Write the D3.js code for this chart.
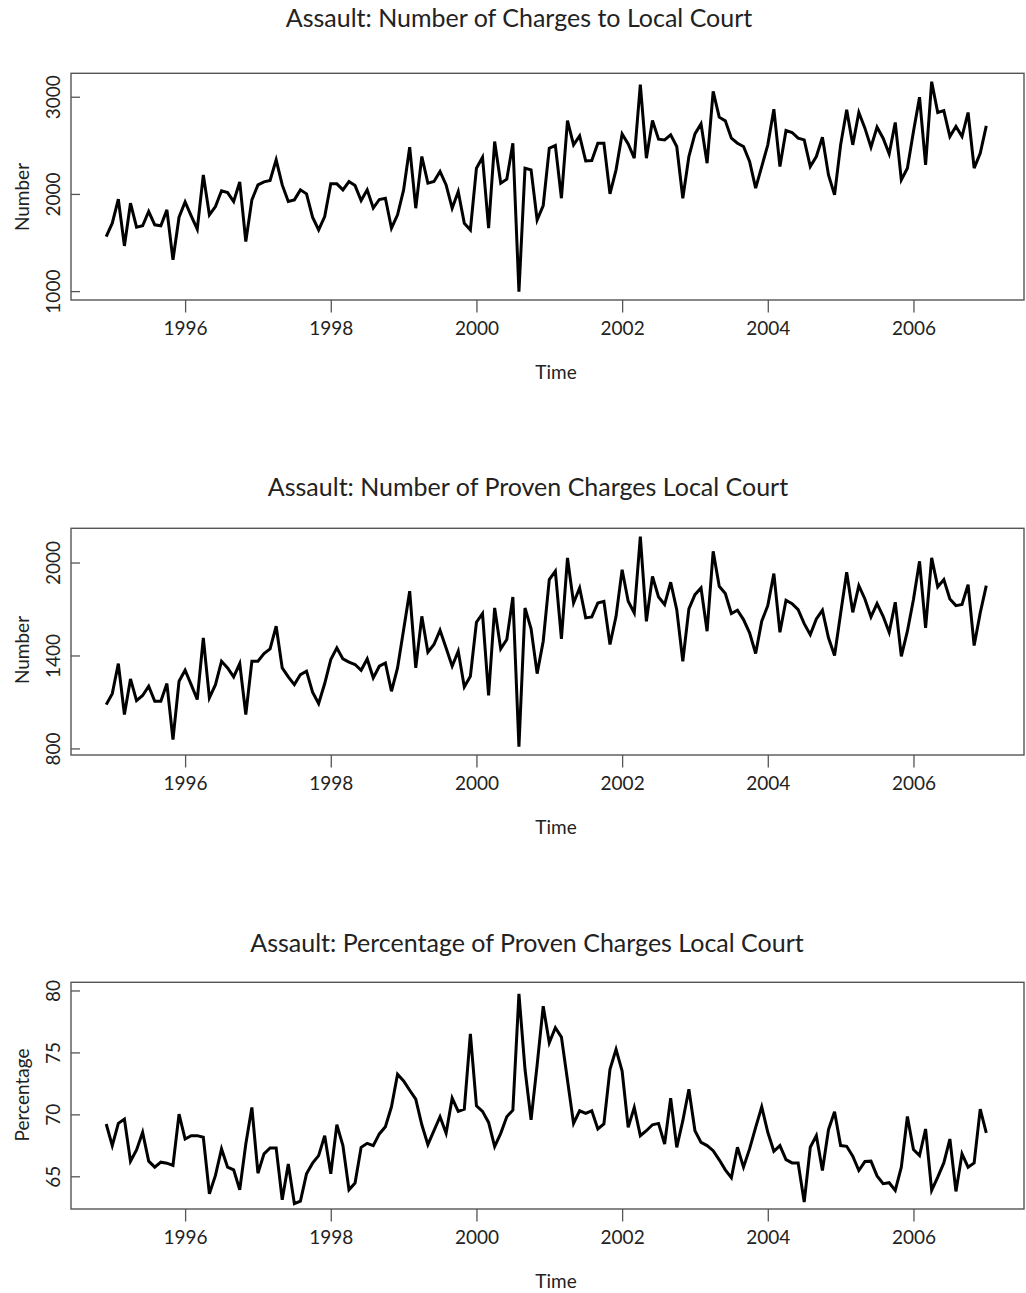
<!DOCTYPE html>
<html><head><meta charset="utf-8">
<script src="https://cdn.jsdelivr.net/npm/d3@7"></script>
<style>
body{margin:0;background:#fff}
svg{display:block}
text{font-family:Lato,"Open Sans",sans-serif;fill:#222}
</style>
</head><body>
<svg id="chart" width="1026" height="1293"></svg>
<script>
// ---- data ----
const startYear = 1994, startMonth = 12, frequency = 12;
const charges = [1566,1704,1951,1470,1910,1663,1677,1824,1687,1677,
1841,1327,1766,1923,1779,1642,2201,1790,1875,2037,
2019,1927,2129,1515,1944,2098,2129,2143,2356,2098,
1927,1944,2047,2006,1766,1635,1772,2109,2109,2047,
2133,2091,1937,2047,1860,1948,1961,1652,1790,2047,
2486,1858,2390,2116,2133,2236,2098,1858,2030,1704,
1635,2270,2383,1652,2544,2116,2157,2527,1000,2270,
2253,1738,1886,2476,2503,1961,2760,2510,2603,2345,
2349,2527,2527,2006,2253,2623,2520,2373,3130,2373,
2760,2568,2561,2613,2493,1961,2390,2623,2726,2321,
3060,2795,2757,2579,2527,2493,2339,2064,2287,2510,
2877,2287,2658,2637,2579,2561,2287,2390,2589,2201,
1995,2510,2870,2510,2843,2682,2486,2692,2579,2417,
2740,2150,2270,2647,3000,2304,3160,2843,2863,2596,
2699,2596,2843,2270,2424,2706];
const proven = [1086,1157,1351,1022,1252,1112,1145,1205,1108,1108,
1222,861,1237,1308,1215,1119,1517,1130,1215,1366,
1323,1265,1351,1022,1366,1366,1415,1446,1592,1323,
1265,1215,1280,1302,1166,1093,1222,1377,1452,1381,
1360,1345,1308,1381,1259,1334,1355,1172,1323,1570,
1818,1323,1656,1424,1474,1566,1452,1334,1431,1200,
1269,1618,1674,1145,1710,1446,1506,1781,815,1710,
1575,1286,1495,1893,1947,1510,2033,1742,1839,1646,
1652,1742,1753,1474,1656,1957,1753,1678,2170,1624,
1914,1781,1732,1876,1699,1366,1704,1796,1839,1560,
2076,1850,1803,1674,1695,1635,1549,1416,1624,1725,
1932,1553,1760,1738,1699,1609,1538,1639,1695,1517,
1403,1674,1940,1682,1854,1768,1652,1738,1656,1553,
1747,1398,1560,1764,2011,1581,2033,1846,1893,1768,
1725,1732,1861,1467,1678,1854];
const percentage = [69.26,67.52,69.31,69.66,66.26,67.17,68.59,66.26,65.78,66.18,
66.10,65.91,70.06,68.05,68.32,68.32,68.19,63.63,65.11,67.25,
65.78,65.56,63.95,67.65,70.60,65.29,66.85,67.33,67.33,63.15,
66.04,62.83,63.04,65.24,66.10,66.71,68.32,65.24,69.20,67.52,
63.95,64.49,67.38,67.70,67.52,68.46,69.04,70.65,73.28,72.74,
71.99,71.27,69.20,67.60,68.72,69.85,68.51,71.35,70.28,70.46,
76.54,70.73,70.28,69.39,67.44,68.51,69.85,70.38,79.76,73.68,
69.60,74.03,78.77,75.82,77.03,76.28,72.79,69.31,70.33,70.12,
70.33,68.86,69.26,73.68,75.29,73.54,68.99,70.60,68.32,68.72,
69.20,69.31,67.65,71.35,67.38,69.53,72.07,68.72,67.78,67.52,
67.11,66.37,65.56,64.92,67.38,65.78,67.25,68.99,70.65,68.59,
67.06,67.52,66.39,66.12,66.12,62.96,67.38,68.32,65.51,68.80,
70.25,67.52,67.46,66.66,65.51,66.23,66.26,65.07,64.44,64.52,
63.90,65.78,69.87,67.20,66.71,68.86,63.90,64.97,66.12,68.05,
63.82,66.85,65.78,66.12,70.46,68.54];

const xTickYears = [1996,1998,2000,2002,2004,2006];
const yTicksCharges = [1000,2000,3000];
const yTicksProven = [800,1400,2000];
const yTicksPercent = [65,70,75,80];
const yDomainCharges = [913.6,3246.4];
const yDomainProven = [760.8,2224.2];
const yDomainPercent = [62.40,80.70];
const titles = ["Assault: Number of Charges to Local Court",
                "Assault: Number of Proven Charges Local Court",
                "Assault: Percentage of Proven Charges Local Court"];
const yLabels = ["Number","Number","Percentage"];
const xLabel = "Time";

// ---- layout ----
const svg = d3.select("#chart");
const boxLeft = 71, boxRight = 1024, boxH = 226.7;
const panelTops = [73.3, 528.3, 982.3];
const titleBaselines = [27, 496, 952];
const titleCenters = [519, 528, 527];
const fontSize = 19;
const titleSize = 25;
const boxColor = "#555";

const t0 = startYear + (startMonth - 1) / frequency;
const times = charges.map((d, i) => t0 + i / frequency);
const tEnd = times[times.length - 1];
const span = tEnd - t0;
const x = d3.scaleLinear()
  .domain([t0 - 0.04 * span, tEnd + 0.04 * span])
  .range([boxLeft, 1021.5]);

const panels = [
  {values: charges, ticks: yTicksCharges, domain: yDomainCharges, title: titles[0], ylab: yLabels[0], ylabY: 197},
  {values: proven, ticks: yTicksProven, domain: yDomainProven, title: titles[1], ylab: yLabels[1], ylabY: 650},
  {values: percentage, ticks: yTicksPercent, domain: yDomainPercent, title: titles[2], ylab: yLabels[2], ylabY: 1095}
];

panels.forEach((p, k) => {
  const top = panelTops[k], bottom = top + boxH;
  const y = d3.scaleLinear().domain(p.domain).range([bottom, top]);
  const g = svg.append("g");

  const line = d3.line().x((d, i) => x(times[i])).y(d => y(d));
  g.append("path").datum(p.values)
    .attr("d", line)
    .attr("fill", "none")
    .attr("stroke", "#000")
    .attr("stroke-width", 3)
    .attr("stroke-linejoin", "miter");

  g.append("rect")
    .attr("x", boxLeft).attr("y", top)
    .attr("width", boxRight - boxLeft).attr("height", boxH)
    .attr("fill", "none").attr("stroke", boxColor).attr("stroke-width", 1.4);

  const xAxis = d3.axisBottom(x).tickValues(xTickYears).tickFormat(d3.format("d"))
    .tickSize(12.5).tickPadding(9);
  const xa = g.append("g").attr("transform", `translate(0,${bottom})`).call(xAxis);
  xa.select(".domain").remove();
  xa.selectAll(".tick line").attr("stroke", boxColor).attr("stroke-width", 1.3);
  xa.selectAll(".tick text").attr("font-size", fontSize).attr("font-family", "Lato")
    .attr("fill", "#222").attr("dy", null).attr("y", 35);

  const ya = g.append("g");
  ya.selectAll("line").data(p.ticks).enter().append("line")
    .attr("x1", boxLeft).attr("x2", boxLeft + 9)
    .attr("y1", d => y(d)).attr("y2", d => y(d))
    .attr("stroke", boxColor).attr("stroke-width", 1.3);
  ya.selectAll("text").data(p.ticks).enter().append("text")
    .attr("transform", d => `translate(59.5,${y(d)}) rotate(-90)`)
    .attr("text-anchor", "middle")
    .attr("font-size", fontSize)
    .text(d => d);

  g.append("text").attr("x", titleCenters[k]).attr("y", titleBaselines[k])
    .attr("text-anchor", "middle").attr("font-size", titleSize).text(p.title);
  g.append("text").attr("x", 556).attr("y", bottom + 78.5)
    .attr("text-anchor", "middle").attr("font-size", fontSize).text(xLabel);
  g.append("text")
    .attr("transform", `translate(29,${p.ylabY}) rotate(-90)`)
    .attr("text-anchor", "middle").attr("font-size", fontSize).text(p.ylab);
});
</script>
</body></html>
